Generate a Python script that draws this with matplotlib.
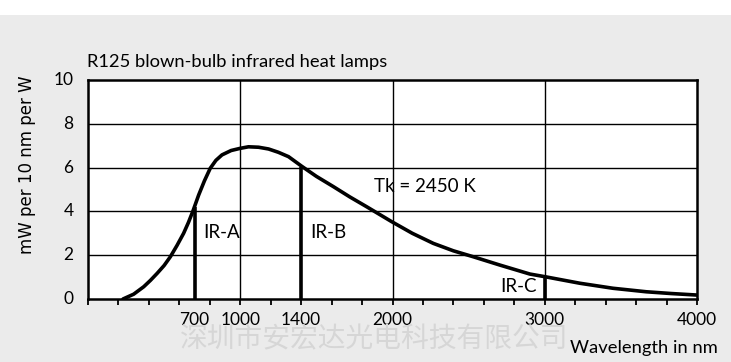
#Spectral distribution of an R125 infrared heat lamp
import matplotlib.pyplot as plt
from matplotlib.patches import Rectangle

#wavelength (nm) and radiated power (mW per 10 nm per W)
wavelength = [230, 300, 366, 410, 454, 500, 541, 585, 628, 660, 690, 727, 765, 803, 840,
              880, 940, 1000, 1054, 1120, 1186, 1250, 1317, 1404, 1500, 1612, 1720,
              1831, 1995, 2130, 2268, 2400, 2530, 2705, 2902, 3000, 3230, 3448, 3667,
              3830, 4000]
power = [0.0, 0.22, 0.56, 0.85, 1.17, 1.53, 1.93, 2.45, 3.0, 3.5, 4.03, 4.75, 5.4, 5.97,
         6.33, 6.58, 6.78, 6.88, 6.95, 6.93, 6.85, 6.7, 6.5, 6.06, 5.6, 5.13, 4.66,
         4.21, 3.53, 3.0, 2.54, 2.2, 1.93, 1.55, 1.14, 1.02, 0.72, 0.49, 0.33,
         0.25, 0.18]

#band limits IR-A / IR-B / IR-C and the curve height there
band_edges = [700, 1400, 3000]
band_heights = [4.2, 6.05, 1.02]

x_ticks = [700, 1000, 1400, 2000, 3000, 4000]
y_ticks = [0, 2, 4, 6, 8, 10]

fig = plt.figure(figsize=(7.31, 3.62), dpi=100, facecolor='#ebebeb')
fig.patches.append(Rectangle((0, 1 - 15/362), 1, 15/362, transform=fig.transFigure,
                             facecolor='white', edgecolor='none', zorder=0))
ax = fig.add_axes([88/731, 1 - 299/362, (697 - 88)/731, (299 - 80)/362])
ax.set_facecolor('white')

#grid lines
for v in [2, 4, 6, 8]:
    ax.axhline(v, color='black', linewidth=1.0, zorder=1)
for v in [1000, 2000, 3000]:
    ax.axvline(v, color='black', linewidth=1.0, zorder=1)

ax.plot(wavelength, power, color='black', linewidth=2.6, solid_capstyle='round',
        solid_joinstyle='round', zorder=3)
ax.vlines(band_edges, 0, band_heights, color='black', linewidth=2.6, zorder=3)

ax.set_xlim(0, 4000)
ax.set_ylim(0, 10)
for s in ax.spines.values():
    s.set_linewidth(1.8)

ax.set_xticks(range(0, 4001, 200))
ax.set_xticklabels([])
ax.tick_params(axis='x', direction='out', length=4, width=1.3, pad=2)
ax.set_yticks(y_ticks)
ax.set_yticklabels([])
ax.tick_params(axis='y', length=0)

tfont = 'Lato'
for v in x_ticks:
    ax.text(v, -0.95, str(v), ha='center', va='center', fontsize=12.5, family=tfont)
for v in y_ticks:
    ax.text(-95, v, str(v), ha='right', va='center', fontsize=12.5, family=tfont)

ax.text(760, 3.05, 'IR-A', fontsize=13.5, family=tfont, va='center')
ax.text(1460, 3.05, 'IR-B', fontsize=13.5, family=tfont, va='center')
ax.text(2950, 0.55, 'IR-C', fontsize=13.5, family=tfont, va='center', ha='right')
ax.text(1880, 5.13, 'Tk = 2450 K', fontsize=13.5, family=tfont, va='center')

fig.text(87/731, 1 - 62/362, 'R125 blown-bulb infrared heat lamps', fontsize=13.2,
         family=tfont, va='center', ha='left')
fig.text(27/731, 1 - 165/362, 'mW per 10 nm per W', rotation=90, fontsize=12,
         family='DejaVu Sans', va='center', ha='center')
fig.text(718/731, 1 - 348/362, 'Wavelength in nm', fontsize=13.2, family=tfont,
         va='center', ha='right')
fig.text(374/731, 1 - 339/362, '深圳市安宏达光电科技有限公司', fontsize=20,
         family=['Noto Sans CJK SC', 'DejaVu Sans'], color='#d6d6d6',
         va='center', ha='center', zorder=0)

fig.savefig('out.png', dpi=100, facecolor=fig.get_facecolor())
